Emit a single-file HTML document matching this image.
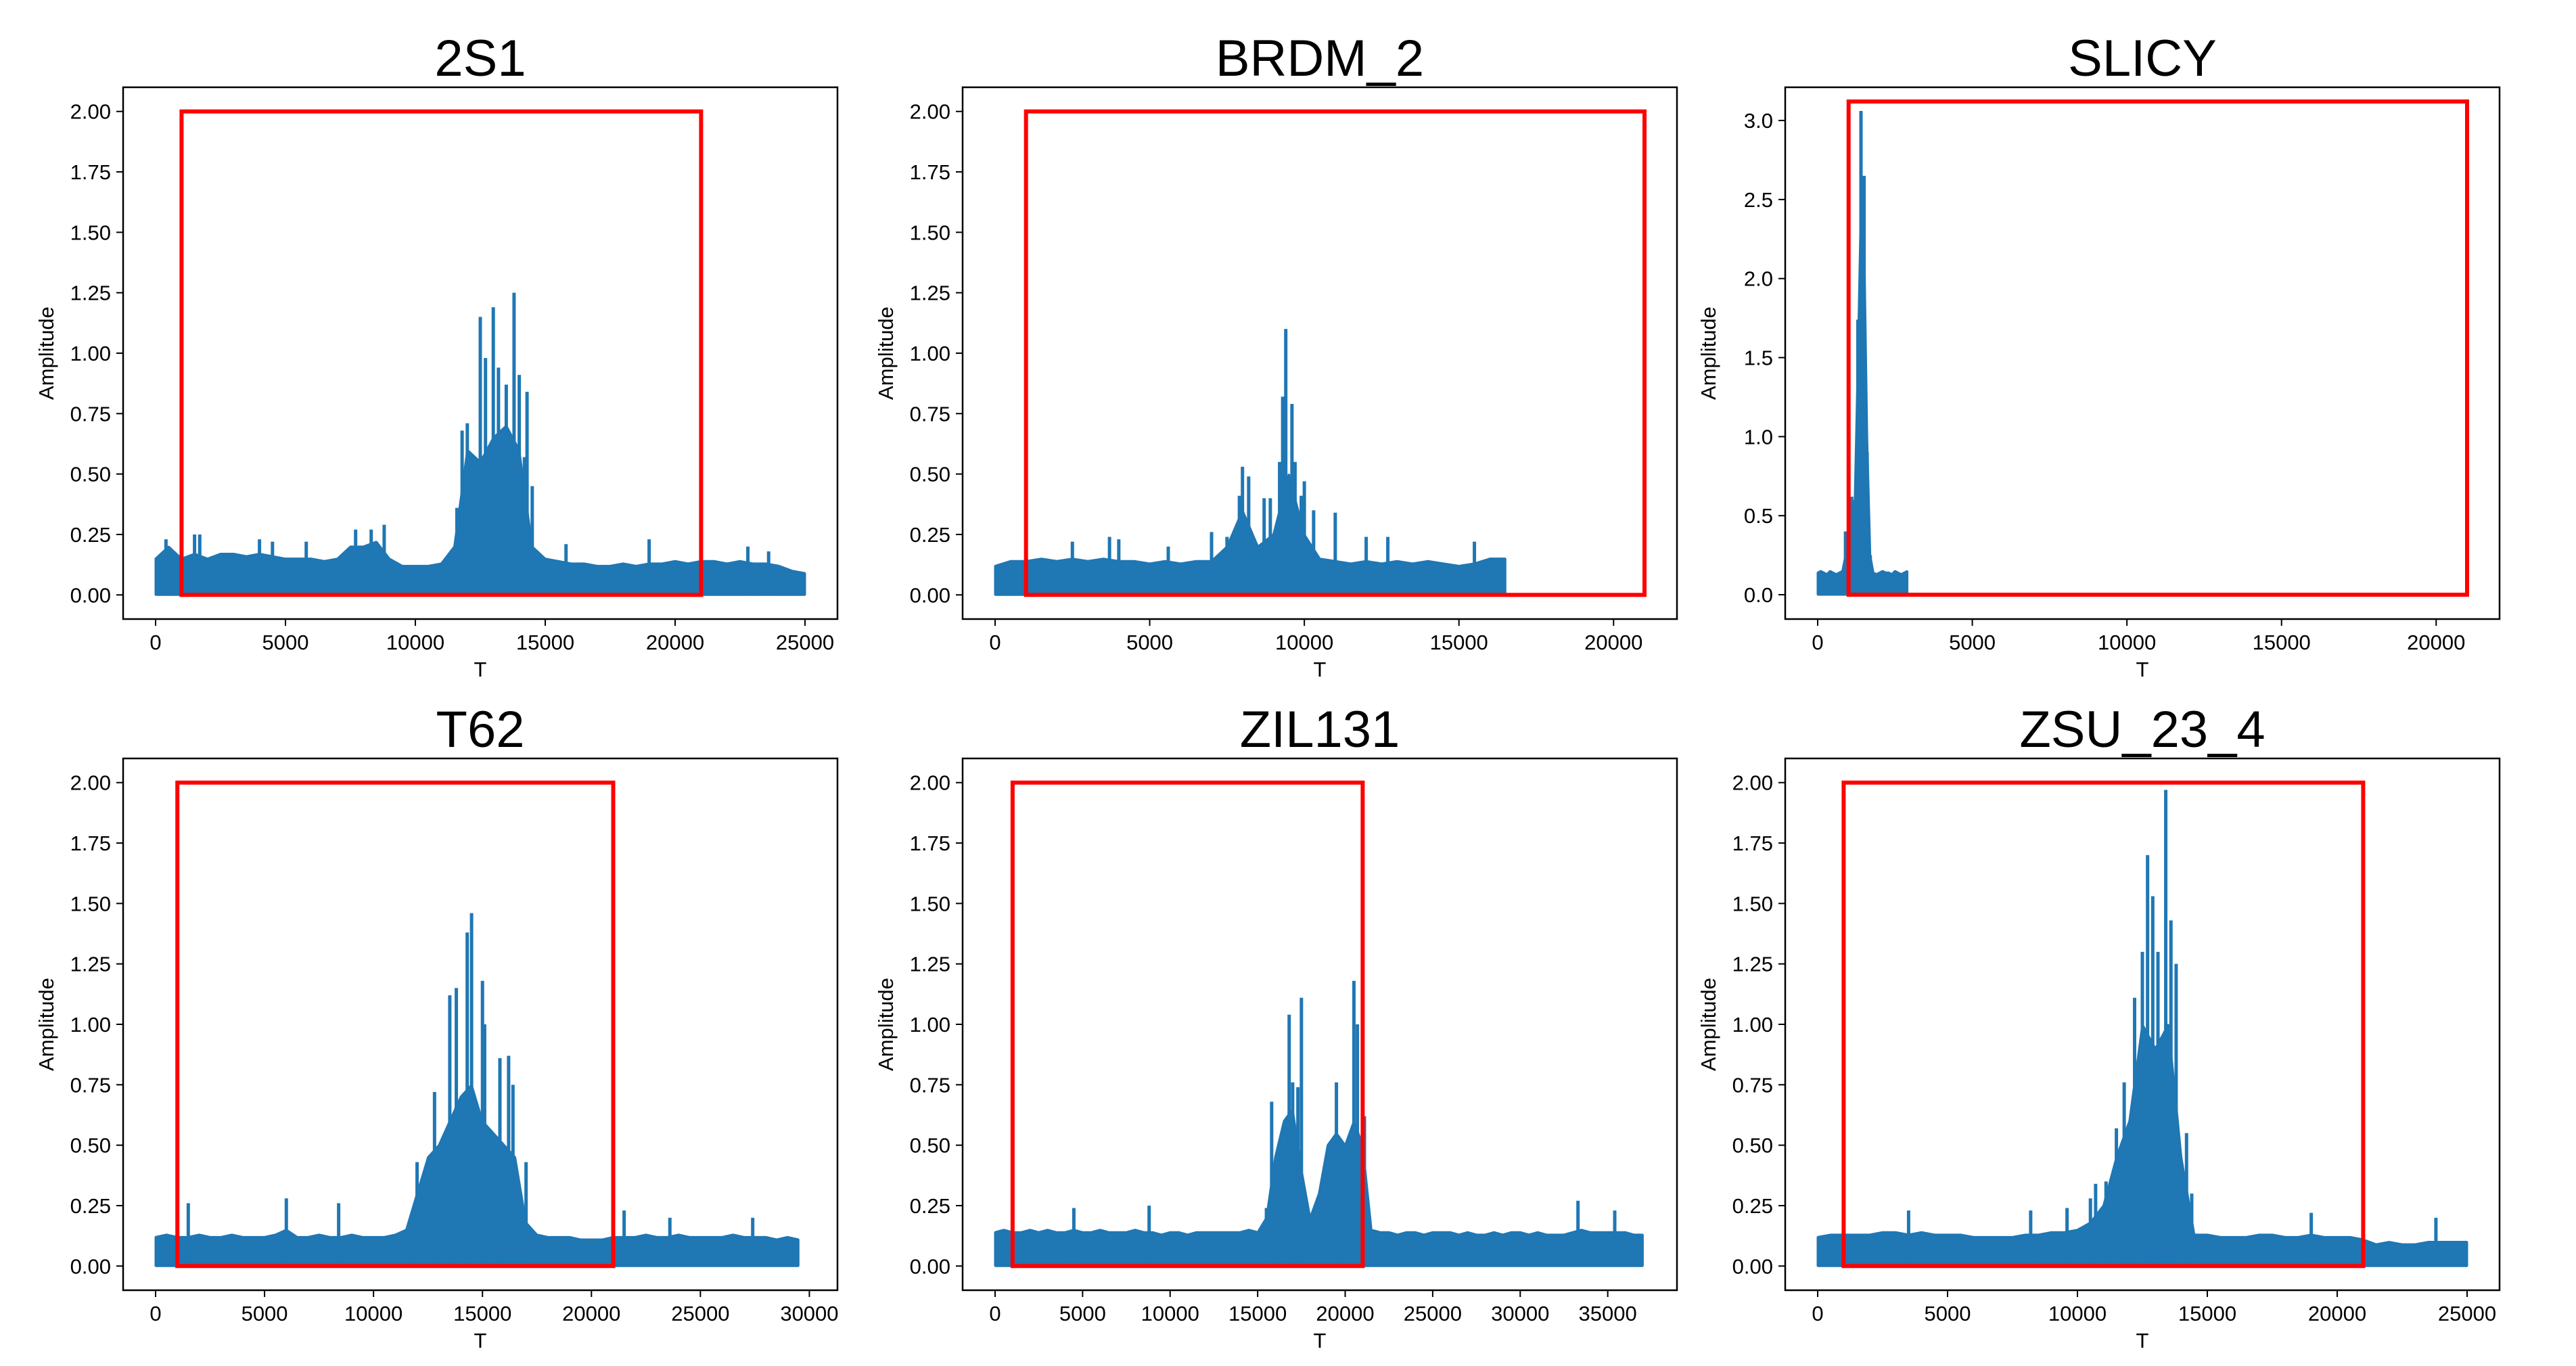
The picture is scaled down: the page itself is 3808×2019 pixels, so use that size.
<!DOCTYPE html>
<html><head><meta charset="utf-8">
<style>
html,body{margin:0;padding:0;background:#fff;}
svg{display:block;}
text{font-family:"Liberation Sans",sans-serif;fill:#000;}
</style></head>
<body>
<svg id="fig" width="3808" height="2019" viewBox="0 0 3808 2019" xmlns="http://www.w3.org/2000/svg"></svg>
<script>
// ---- data (envelope samples + individual spikes) ----
const titles = ["2S1","BRDM_2","SLICY","T62","ZIL131","ZSU_23_4"];
const envStep = [500,500,100,500,500,500];
const env2S1 = [0.15,0.2,0.15,0.17,0.15,0.17,0.17,0.16,0.17,0.16,0.15,0.15,0.15,0.14,0.15,0.2,0.2,0.22,0.15,0.12,0.12,0.12,0.13,0.2,0.6,0.55,0.65,0.7,0.6,0.2,0.15,0.14,0.13,0.13,0.12,0.12,0.13,0.12,0.13,0.13,0.14,0.13,0.14,0.14,0.13,0.14,0.13,0.13,0.12,0.1,0.09];
const envBRDM = [0.12,0.14,0.14,0.15,0.14,0.15,0.14,0.15,0.14,0.14,0.13,0.14,0.13,0.14,0.14,0.2,0.35,0.2,0.25,0.5,0.25,0.15,0.14,0.13,0.14,0.13,0.14,0.13,0.14,0.13,0.12,0.13,0.15,0.15];
const envSLICY = [0.14,0.15,0.14,0.13,0.15,0.14,0.13,0.14,0.15,0.25,0.4,0.55,0.6,1.5,2.5,2.3,1.0,0.25,0.14,0.13,0.14,0.15,0.14,0.14,0.13,0.15,0.14,0.13,0.14,0.15];
const envT62 = [0.12,0.13,0.12,0.12,0.13,0.12,0.12,0.13,0.12,0.12,0.12,0.13,0.15,0.12,0.12,0.13,0.12,0.12,0.13,0.12,0.12,0.12,0.13,0.15,0.3,0.45,0.5,0.6,0.7,0.75,0.6,0.55,0.5,0.45,0.18,0.13,0.12,0.12,0.12,0.11,0.11,0.11,0.12,0.12,0.12,0.13,0.12,0.12,0.13,0.12,0.12,0.12,0.12,0.13,0.12,0.12,0.12,0.11,0.12,0.11];
const envZIL = [0.14,0.15,0.14,0.14,0.15,0.14,0.15,0.14,0.14,0.15,0.14,0.14,0.15,0.14,0.14,0.14,0.15,0.14,0.14,0.13,0.14,0.14,0.13,0.14,0.14,0.14,0.14,0.14,0.14,0.15,0.14,0.2,0.45,0.6,0.65,0.4,0.2,0.3,0.5,0.55,0.5,0.6,0.5,0.15,0.14,0.14,0.13,0.14,0.14,0.13,0.14,0.14,0.14,0.13,0.14,0.13,0.13,0.14,0.13,0.14,0.14,0.13,0.14,0.13,0.13,0.13,0.14,0.15,0.14,0.14,0.14,0.14,0.14,0.13,0.13];
const envZSU = [0.12,0.13,0.13,0.13,0.13,0.14,0.14,0.13,0.14,0.13,0.13,0.13,0.12,0.12,0.12,0.12,0.13,0.13,0.14,0.14,0.15,0.18,0.25,0.45,0.6,1.0,0.9,1.0,0.45,0.13,0.13,0.12,0.12,0.12,0.13,0.13,0.12,0.12,0.13,0.12,0.12,0.12,0.11,0.09,0.1,0.09,0.09,0.1,0.1,0.1,0.1];
const spikeT2S1 = [400,1500,1700,4000,4500,5800,7700,8300,8800,11600,11800,12000,12200,12500,12700,13000,13200,13500,13800,14000,14200,14300,14500,15800,19000,22800,23600];
const spikeV2S1 = [0.23,0.25,0.25,0.23,0.22,0.22,0.27,0.27,0.29,0.36,0.68,0.71,0.53,1.15,0.98,1.19,0.94,0.87,1.25,0.91,0.57,0.84,0.45,0.21,0.23,0.2,0.18];
const spikeTBRDM = [2500,3700,4000,5600,7000,7500,7900,8000,8200,8700,8900,9200,9300,9400,9600,9700,9900,10000,10300,11000,12000,12700,15500];
const spikeVBRDM = [0.22,0.24,0.23,0.2,0.26,0.24,0.41,0.53,0.49,0.4,0.4,0.55,0.82,1.1,0.79,0.55,0.41,0.47,0.35,0.34,0.24,0.24,0.22];
const spikeTSLICY = [900,1100,1300,1400,1500,1600,1700];
const spikeVSLICY = [0.4,0.62,1.74,3.06,2.65,0.9,0.25];
const spikeTT62 = [1500,6000,8400,12000,12800,13500,13800,14300,14500,15000,15100,15800,16200,16400,17000,21500,23600,27400];
const spikeVT62 = [0.26,0.28,0.26,0.43,0.72,1.12,1.15,1.38,1.46,1.18,1.0,0.86,0.87,0.75,0.43,0.23,0.2,0.2];
const spikeTZIL = [1000,4500,8800,15500,15800,16800,17000,17300,17500,19500,20500,20700,21100,33300,35400];
const spikeVZIL = [0.26,0.24,0.25,0.24,0.68,1.04,0.76,0.74,1.11,0.76,1.18,1.0,0.62,0.27,0.23];
const spikeTZSU = [3500,8200,9600,10500,10700,11100,11500,11800,12200,12500,12700,12900,13100,13400,13600,13800,14200,14400,19000,23800];
const spikeVZSU = [0.23,0.23,0.24,0.28,0.34,0.35,0.57,0.76,1.11,1.3,1.7,1.53,1.3,1.97,1.43,1.25,0.55,0.3,0.22,0.2];
const rectX = [[1000,21000],[1000,21000],[1000,21000],[1000,21000],[1000,21000],[1000,21000]];
const rectY = [[0,2],[0,2],[0,3.12],[0,2],[0,2],[0,2]];
const xlims = [[-1250,26250],[-1050,22050],[-1050,22050],[-1490,31290],[-1855,38955],[-1250,26250]];
const ylims = [[-0.1,2.1],[-0.1,2.1],[-0.154,3.21],[-0.1,2.1],[-0.1,2.1],[-0.1,2.1]];
const xTicks = [[0,5000,10000,15000,20000,25000],[0,5000,10000,15000,20000],[0,5000,10000,15000,20000],[0,5000,10000,15000,20000,25000,30000],[0,5000,10000,15000,20000,25000,30000,35000],[0,5000,10000,15000,20000,25000]];
const yTicks = [[0,0.25,0.5,0.75,1,1.25,1.5,1.75,2],[0,0.25,0.5,0.75,1,1.25,1.5,1.75,2],[0,0.5,1,1.5,2,2.5,3],[0,0.25,0.5,0.75,1,1.25,1.5,1.75,2],[0,0.25,0.5,0.75,1,1.25,1.5,1.75,2],[0,0.25,0.5,0.75,1,1.25,1.5,1.75,2]];
const yDec = [2,2,1,2,2,2];
const envs = [env2S1,envBRDM,envSLICY,envT62,envZIL,envZSU];
const spikeTs = [spikeT2S1,spikeTBRDM,spikeTSLICY,spikeTT62,spikeTZIL,spikeTZSU];
const spikeVs = [spikeV2S1,spikeVBRDM,spikeVSLICY,spikeVT62,spikeVZIL,spikeVZSU];

// ---- layout ----
const colL = [182,1423,2639], rowT = [129,1121], AW = 1056, AH = 786;
const NS = "http://www.w3.org/2000/svg";
const svg = document.getElementById('fig');
function mk(tag, attrs, parent){const e=document.createElementNS(NS,tag);for(const k in attrs)e.setAttribute(k,attrs[k]);(parent||svg).appendChild(e);return e;}

for(let p=0;p<6;p++){
  const L=colL[p%3], T=rowT[Math.floor(p/3)];
  const xl=xlims[p], yl=ylims[p];
  const X=v=>L+(v-xl[0])/(xl[1]-xl[0])*AW;
  const Y=v=>T+AH-(v-yl[0])/(yl[1]-yl[0])*AH;
  const g=mk('g',{});
  
  
  // title
  const tt=mk('text',{x:L+AW/2,y:T-17,'text-anchor':'middle','font-size':76},g);
  tt.textContent=titles[p];
  
  
  // envelope area
  const env=envs[p], st=envStep[p];
  let d='M'+X(0)+','+Y(0);
  for(let i=0;i<env.length;i++){d+=' L'+X(i*st)+','+Y(env[i]);}
  d+=' L'+X((env.length-1)*st)+','+Y(0)+' Z';
  const area=mk('path',{d:d,fill:'#1f77b4',stroke:'#1f77b4','stroke-width':3,'stroke-linejoin':'bevel'},g);
  
  
  // spikes
  const ts=spikeTs[p], vs=spikeVs[p];
  for(let i=0;i<ts.length;i++){
    const s=mk('line',{x1:X(ts[i]),x2:X(ts[i]),y1:Y(0),y2:Y(vs[i]),stroke:'#1f77b4','stroke-width':5},g);
    
    
  }
  // red rect
  const rx=rectX[p], ry=rectY[p];
  const r=mk('rect',{x:X(rx[0]),y:Y(ry[1]),width:X(rx[1])-X(rx[0]),height:Y(ry[0])-Y(ry[1]),fill:'none',stroke:'#ff0000','stroke-width':6},g);
  
  
  // frame
  const f=mk('rect',{x:L,y:T,width:AW,height:AH,fill:'none',stroke:'#000','stroke-width':2.5},g);
  
  
  // x ticks
  xTicks[p].forEach(v=>{
    const tk=mk('line',{x1:X(v),x2:X(v),y1:T+AH,y2:T+AH+10,stroke:'#000','stroke-width':2},g);
    
    
    const tl=mk('text',{x:X(v),y:T+AH+45,'text-anchor':'middle','font-size':31},g);
    tl.textContent=String(v);
    
    
  });
  // y ticks
  yTicks[p].forEach(v=>{
    const tk=mk('line',{x1:L-10,x2:L,y1:Y(v),y2:Y(v),stroke:'#000','stroke-width':2},g);
    
    
    const tl=mk('text',{x:L-18,y:Y(v)+11,'text-anchor':'end','font-size':31},g);
    tl.textContent=v.toFixed(yDec[p]);
    
    
  });
  // axis labels
  const xt=mk('text',{x:L+AW/2,y:T+AH+85,'text-anchor':'middle','font-size':31},g);
  xt.textContent='T';
  
  
  const cy=T+AH/2, cx=L-103;
  const yt=mk('text',{x:cx,y:cy,'text-anchor':'middle','font-size':31,transform:'rotate(-90 '+cx+' '+cy+')'},g);
  yt.textContent='Amplitude';
  
  
}
</script>
</body></html>
